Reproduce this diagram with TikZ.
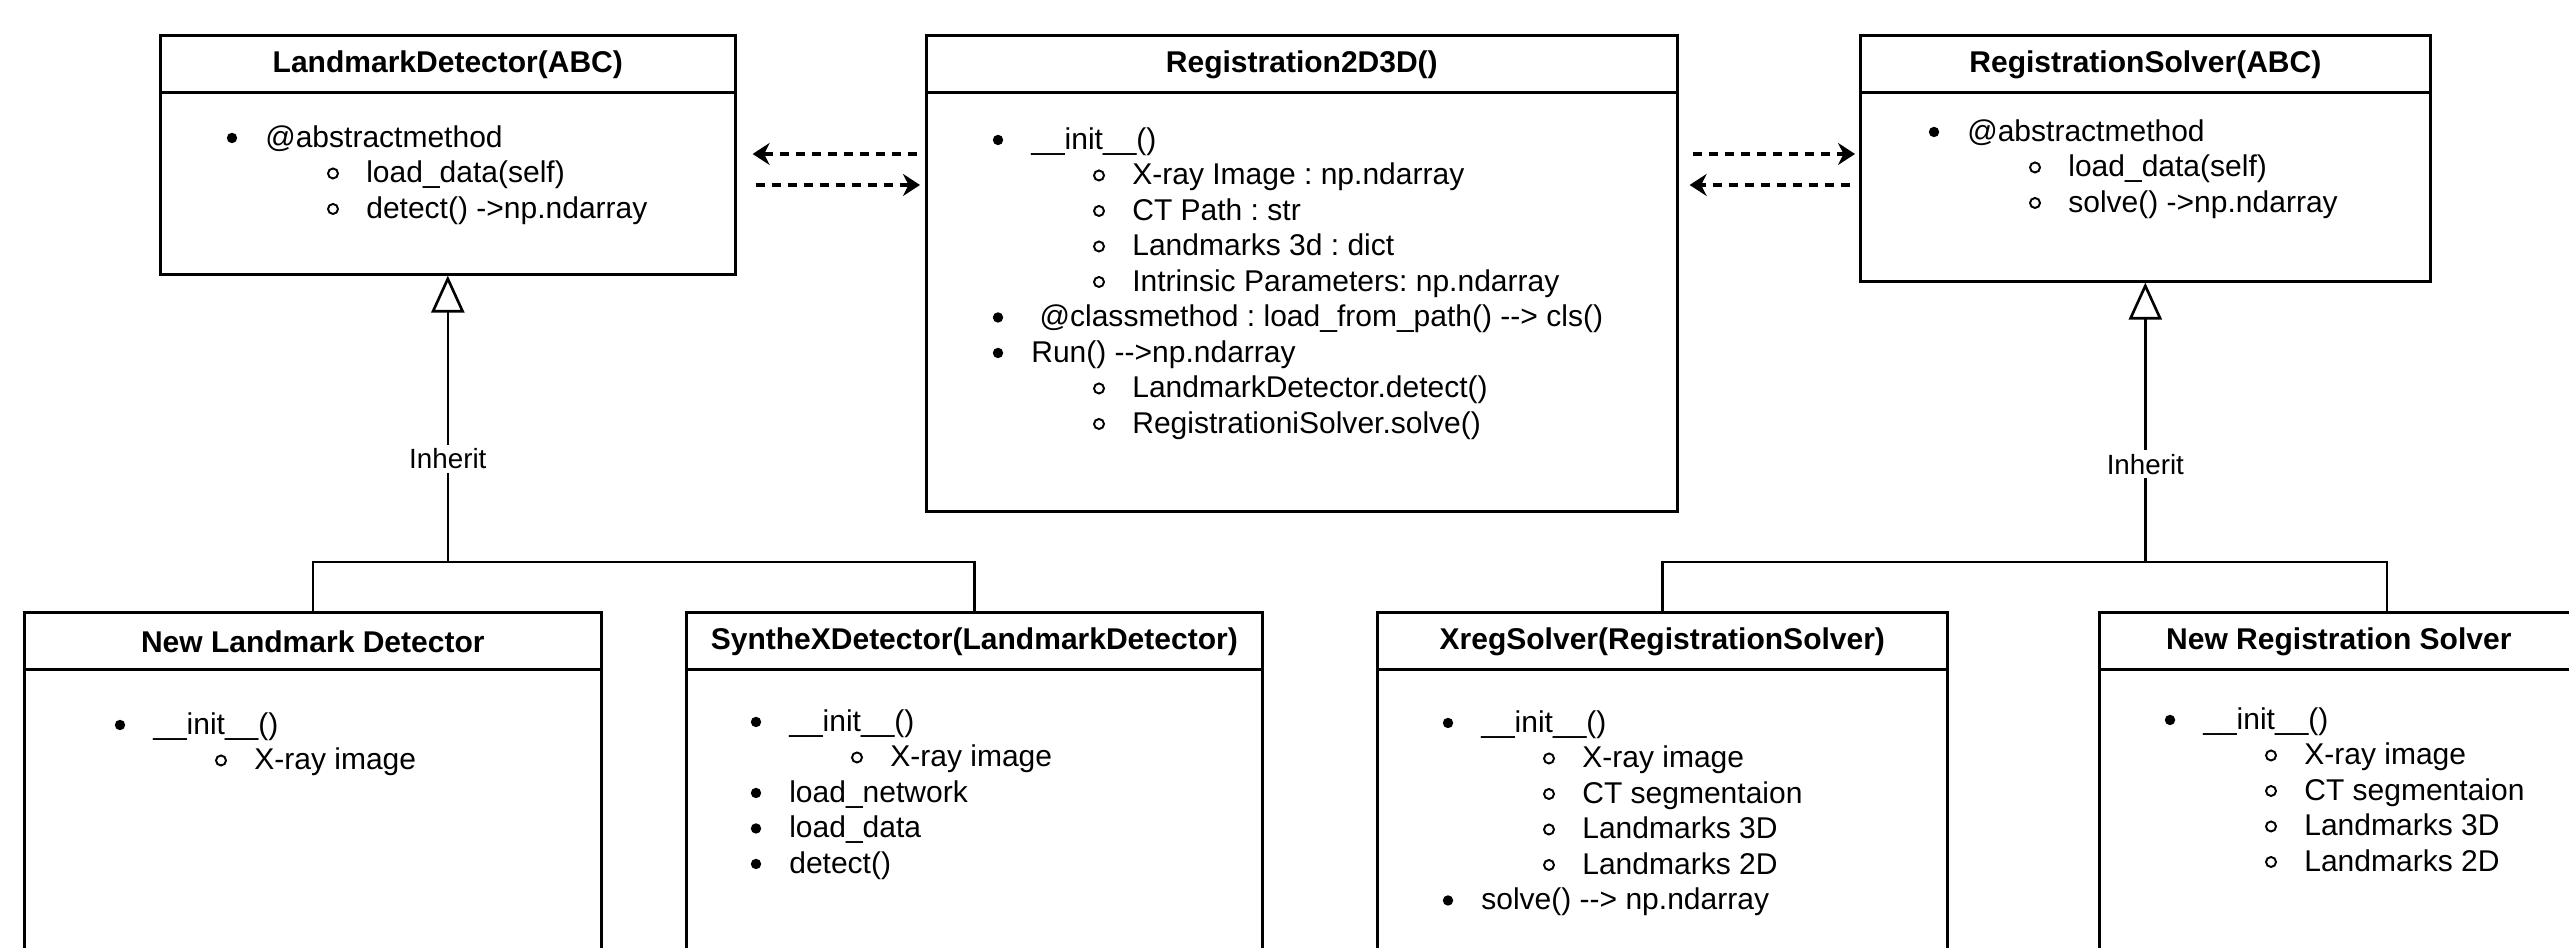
\documentclass[tikz,border=0pt]{standalone}
\usepackage{fontspec}
\setmainfont{Liberation Sans}
\usetikzlibrary{arrows.meta,calc}
\frenchspacing

\begin{document}
\begin{tikzpicture}[line width=0.75pt,
        font=\fontsize{8.54pt}{10pt}\selectfont,
        classbox/.style={draw, anchor=north west, inner sep=0pt},
        title/.style={inner sep=0pt, font=\fontsize{8.54pt}{10pt}\selectfont\bfseries},
        item/.style={anchor=mid west, inner sep=0pt},
        inherit/.style={-{Triangle[open, length=0.37cm, width=0.33cm]}},
        uses/.style={line width=0.9pt, dash pattern=on 0.09cm off 0.07cm,
            -{Stealth[length=0.17cm, width=0.22cm]}},
        lbl/.style={fill=white, inner sep=1pt, font=\fontsize{7.9pt}{9pt}\selectfont}]
    \useasboundingbox (0, 0) rectangle (25.69, 9.48);
    \clip (0, 0) rectangle (25.69, 9.48);

    % top row
    \node[classbox, minimum width=5.75cm, minimum height=2.39cm] (ld) at (1.59, 9.14) {};
    \node[classbox, minimum width=7.51cm, minimum height=4.76cm] (reg) at (9.25, 9.14) {};
    \node[classbox, minimum width=5.70cm, minimum height=2.46cm] (rs) at (18.59, 9.14) {};
    % bottom row, runs past the lower edge
    \node[classbox, minimum width=5.77cm, minimum height=4cm] (nld) at (0.23, 3.37) {};
    \node[classbox, minimum width=5.76cm, minimum height=4cm] (sxd) at (6.85, 3.37) {};
    \node[classbox, minimum width=5.70cm, minimum height=4cm] (xs) at (13.76, 3.37) {};
    \node[classbox, minimum width=5.75cm, minimum height=4cm] (nrs) at (20.98, 3.37) {};

    % headers
    \foreach \n/\dx/\name in {ld/0/LandmarkDetector(ABC), reg/0/Registration2D3D(),
            rs/0/RegistrationSolver(ABC), nld/0/New Landmark Detector,
            sxd/0/SyntheXDetector(LandmarkDetector), xs/0/XregSolver(RegistrationSolver),
            nrs/-0.48/New Registration Solver} {
        \draw ([yshift=-0.585cm]\n.north west) -- ([yshift=-0.585cm]\n.north east);
        \node[title] (\n-title) at ([xshift=\dx cm, yshift=-0.31cm]\n.north) {\name};
    }

    % member lists
    \foreach \n/\bx/\by/\members in {
            ld/0.73/1.04/{0/@abstractmethod, 1/load\_data(self), 1/detect() ->np.ndarray},
            reg/0.73/1.06/{0/\_\_init\_\_(), 1/X-ray Image : np.ndarray, 1/CT Path : str,
                1/Landmarks 3d : dict, 1/Intrinsic Parameters: np.ndarray,
                0/\ @classmethod : load\_from\_path() -{}-> cls(), 0/Run() -{}->np.ndarray,
                1/LandmarkDetector.detect(), 1/RegistrationiSolver.solve()},
            rs/0.75/0.98/{0/@abstractmethod, 1/load\_data(self), 1/solve() ->np.ndarray},
            nld/0.97/1.14/{0/\_\_init\_\_(), 1/X-ray image},
            sxd/0.71/1.11/{0/\_\_init\_\_(), 1/X-ray image, 0/load\_network, 0/load\_data,
                0/detect()},
            xs/0.72/1.12/{0/\_\_init\_\_(), 1/X-ray image, 1/CT segmentaion, 1/Landmarks 3D,
                1/Landmarks 2D, 0/solve() -{}-> np.ndarray},
            nrs/0.72/1.09/{0/\_\_init\_\_(), 1/X-ray image, 1/CT segmentaion, 1/Landmarks 3D,
                1/Landmarks 2D}} {
        \foreach \lv/\txt [count=\i] in \members {
            \coordinate (\n-b\i) at ($(\n.north west)+(\bx+\lv*1.01, 0.355-\by-\i*0.355)$);
            \ifnum\lv=0
                \fill (\n-b\i) circle (0.052);
            \else
                \draw[line width=0.55pt] (\n-b\i) circle (0.05);
            \fi
            \node[item] (\n-\i) at ([xshift=0.32cm]\n-b\i) {\txt};
        }
    }

    % calls between the classes
    \draw[uses] ($(reg.north west)+(-0.08,-1.20)$) -- ($(ld.north east)+(0.16,-1.20)$);
    \draw[uses] ($(ld.north east)+(0.19,-1.51)$) -- ($(reg.north west)+(-0.05,-1.51)$);
    \draw[uses] ($(reg.north east)+(0.14,-1.20)$) -- ($(rs.north west)+(-0.04,-1.20)$);
    \draw[uses] ($(rs.north west)+(-0.09,-1.51)$) -- ($(reg.north east)+(0.11,-1.51)$);

    % inheritance
    \coordinate (ld-join) at ($(ld.south |- nld.north)+(0,0.49)$);
    \coordinate (rs-join) at ($(rs.south |- xs.north)+(0,0.49)$);
    \draw (nld.north) |- (ld-join) -| (sxd.north);
    \draw (xs.north) |- (rs-join) -| (nrs.north);
    \draw[inherit] (ld-join) -- node[lbl, pos=0.36] (ld-inh) {Inherit} (ld.south);
    \draw[inherit] (rs-join) -- node[lbl, pos=0.35] (rs-inh) {Inherit} (rs.south);
\end{tikzpicture}
\end{document}
